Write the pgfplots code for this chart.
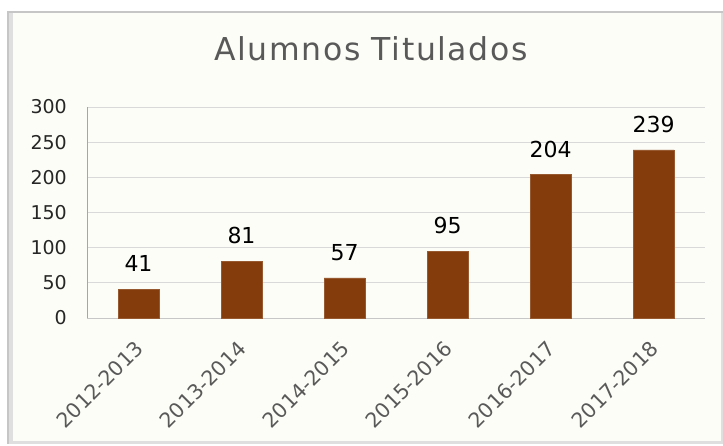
\documentclass[border=0pt]{standalone}
\usepackage{fontspec}
\setmainfont{DejaVu Sans}
\usepackage{pgfplots}
\pgfplotsset{compat=1.18}
\definecolor{barbrown}{HTML}{843C0C}
\definecolor{cream}{RGB}{253,253,247}
\definecolor{titlegray}{HTML}{595959}
\definecolor{gridgray}{HTML}{D9D9D9}
\definecolor{axgray}{HTML}{A6A6A6}
\begin{document}
\begin{tikzpicture}[x=1bp,y=1bp]
\fill[white] (0,0) rectangle (723,446);
% frame shadow
\fill[gray!45] (7,2) rectangle (723,435);
\fill[gray!25] (9,2) rectangle (723,433);
\fill[cream] (13,5) rectangle (721,433);
\node[anchor=base, text=titlegray, inner sep=0pt] at (371,385)
  {\fontsize{31.5bp}{36bp}\selectfont\addfontfeature{LetterSpace=5}Alumnos Titulados};
\begin{axis}[
  at={(87bp,128bp)}, anchor=south west,
  scale only axis, width=618bp, height=211bp,
  xmin=-0.5, xmax=5.5, ymin=0, ymax=300,
  ytick={0,50,...,300},
  xtick=data,
  xticklabels={2012-2013,2013-2014,2014-2015,2015-2016,2016-2017,2017-2018},
  ymajorgrids, grid style={gridgray, line width=0.8bp},
  axis x line*=bottom, axis y line*=left,
  axis line style={axgray, line width=0.8bp},
  x axis line style={gridgray!80!gray},
  major tick length=0pt,
  /pgf/number format/assume math mode=true,
  yticklabel style={font=\fontsize{19bp}{23bp}\selectfont, text=black!85, anchor=east, inner sep=0pt, xshift=-20bp},
  xticklabel style={font=\fontsize{20.5bp}{24bp}\selectfont, text=titlegray, inner sep=0pt, xshift=1bp, yshift=-27bp, rotate=45, anchor=east},
  nodes near coords,
  every node near coord/.append style={font=\fontsize{22bp}{26bp}\selectfont, text=black, anchor=south, inner sep=0pt, yshift=17bp},
  clip=false,
]
\addplot[ybar, bar width=41bp, fill=barbrown, draw=barbrown!85!white] coordinates {
  (0,41) (1,81) (2,57) (3,95) (4,204) (5,239)
};
\end{axis}
\end{tikzpicture}
\end{document}
